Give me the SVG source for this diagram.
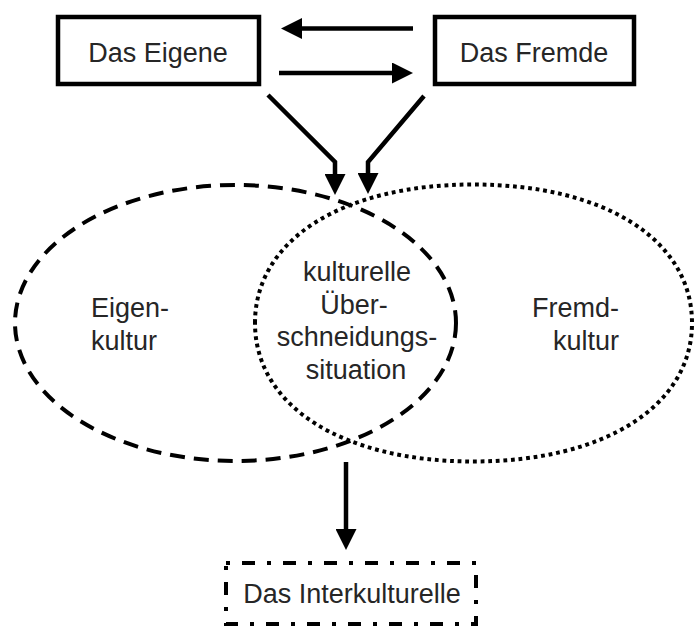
<svg xmlns="http://www.w3.org/2000/svg" width="694" height="628" viewBox="0 0 694 628">
  <defs>
    <style>
      .box { fill: #fff; stroke: #000; stroke-width: 4.5; }
      .lbl { font-family: "Liberation Sans", Arial, sans-serif; font-size: 27px; fill: #262626; }
      .mid { text-anchor: middle; }
      .end { text-anchor: end; }
      .area { fill: none; stroke: #000; }
      .dashed { stroke-width: 4; stroke-dasharray: 15 9; }
      .dotted { stroke-width: 4; stroke-dasharray: 3.8 3.8; }
      .dashdot { fill: #fff; stroke: #000; stroke-width: 4; stroke-dasharray: 4 12 13 12; }
      .arrow { fill: none; stroke: #000; stroke-width: 4.5; stroke-linejoin: miter; }
    </style>
    <marker id="head" markerUnits="userSpaceOnUse" viewBox="0 0 21 21" markerWidth="21" markerHeight="21" refX="0" refY="10.5" orient="auto">
      <path d="M0,0 L21,10.5 L0,21 Z" fill="#000"/>
    </marker>
  </defs>

  <!-- culture areas -->
  <g id="eigenkultur">
    <ellipse class="area dashed" cx="235.5" cy="323" rx="220.5" ry="138"/>
    <text class="lbl" x="91" y="317">Eigen-</text>
    <text class="lbl" x="91" y="350">kultur</text>
  </g>
  <g id="fremdkultur">
    <path class="area dotted" d="M255,323 C255,239.9 342.4,184.5 473.5,184.5 C604.6,184.5 692,239.9 692,323 C692,406.1 604.6,461.5 473.5,461.5 C342.4,461.5 255,406.1 255,323 Z"/>
    <text class="lbl end" x="619" y="317">Fremd-</text>
    <text class="lbl end" x="619" y="350">kultur</text>
  </g>
  <g id="ueberschneidung">
    <text class="lbl mid" x="357" y="281">kulturelle</text>
    <text class="lbl mid" x="354" y="313.5">Über-</text>
    <text class="lbl mid" x="357" y="346">schneidungs-</text>
    <text class="lbl mid" x="356" y="378.5">situation</text>
  </g>

  <!-- boxes -->
  <g id="das-eigene">
    <rect class="box" x="58" y="17" width="201" height="67"/>
    <text class="lbl mid" x="158" y="62">Das Eigene</text>
  </g>
  <g id="das-fremde">
    <rect class="box" x="435" y="17" width="199" height="67"/>
    <text class="lbl mid" x="534" y="62">Das Fremde</text>
  </g>
  <g id="das-interkulturelle">
    <rect class="dashdot" x="226" y="563" width="250" height="61"/>
    <text class="lbl mid" x="352" y="603">Das Interkulturelle</text>
  </g>

  <!-- connectors -->
  <g id="connectors">
    <line class="arrow" x1="413" y1="28.5" x2="302" y2="28.5" marker-end="url(#head)"/>
    <line class="arrow" x1="279" y1="73" x2="392" y2="73" marker-end="url(#head)"/>
    <polyline class="arrow" points="268,95 335,162 335,174" marker-end="url(#head)"/>
    <polyline class="arrow" points="424,96 368,162 368,173" marker-end="url(#head)"/>
    <line class="arrow" x1="346" y1="462" x2="346" y2="529" marker-end="url(#head)"/>
  </g>
</svg>
